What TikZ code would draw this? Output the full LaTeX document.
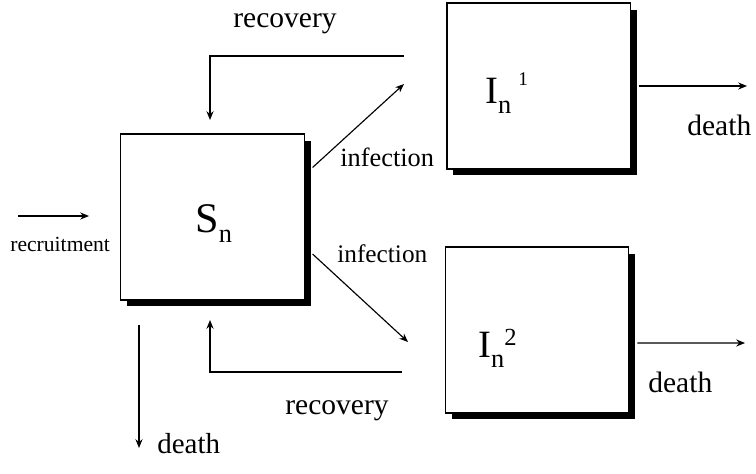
\documentclass[tikz,border=0pt]{standalone}
\usepackage{fontspec}
\setmainfont{Liberation Serif}
\usetikzlibrary{shadows}
\usetikzlibrary{arrows.meta}
\tikzset{popbox/.style={draw, line width=0.6pt, fill=white, minimum width=3.67cm, minimum height=3.32cm, drop shadow={shadow xshift=0.13cm, shadow yshift=-0.13cm, opacity=1, fill=black}}}
\tikzset{flow/.style={line width=0.65pt, -{Stealth[length=5pt, width=4pt]}}}
\tikzset{lbl/.style={anchor=base west, inner sep=0pt, font=\fontsize{16.8}{18}\selectfont}}
\tikzset{poplbl/.style={anchor=base west, inner sep=0pt}}

\begin{document}
\begin{tikzpicture}[x=0.02cm, y=-0.02cm]
\useasboundingbox (0,0) rectangle (756,473);

\node[popbox] (Sn) at (212.3, 217) {};
\node[popbox] (In1) at (538.7, 86) {};
\node[popbox] (In2) at (537, 330) {};

\node[poplbl] (SnLbl) at (195, 232) {\fontsize{24}{26}\selectfont S\raisebox{-6.2pt}{\fontsize{15}{16}\selectfont n}};
\node[poplbl] (In1Lbl) at (485, 103) {\fontsize{22}{24}\selectfont I\raisebox{-5.7pt}{\fontsize{15}{16}\selectfont n}\hspace{4pt}\raisebox{10pt}{\fontsize{11}{12}\selectfont 1}};
\node[poplbl] (In2Lbl) at (478, 357) {\fontsize{22}{24}\selectfont I\raisebox{-5.7pt}{\fontsize{15}{16}\selectfont n}\raisebox{6.8pt}{\fontsize{14}{15}\selectfont 2}};

\coordinate (rcA) at (18, 216);
\coordinate (rcB) at (89, 216);
\coordinate (dsA) at (139, 325);
\coordinate (dsB) at (139, 448);
\coordinate (rtA) at (404, 56);
\coordinate (rtB) at (210, 120);
\coordinate (rbA) at (402, 372);
\coordinate (rbB) at (210, 320);
\coordinate (itB) at (404, 84);
\coordinate (ibB) at (408, 342);
\coordinate (d1B) at (747, 86);
\coordinate (d2B) at (745, 343);

\draw[flow] (rcA) -- (rcB);
\draw[flow] (dsA) -- (dsB);
\draw[flow] (rtA) -| (rtB);
\draw[flow] (rbA) -| (rbB);
\draw[flow] ([shift={(8,34)}]Sn.north east) -- (itB);
\draw[flow] ([shift={(8,37)}]Sn.east) -- (ibB);
\draw[flow] ([xshift=0.16cm]In1.east) -- (d1B);
\draw[flow] ([xshift=0.16cm, yshift=-0.26cm]In2.east) -- (d2B);

\node[lbl] (recTop) at (233, 28) {recovery};
\node[lbl, font=\fontsize{15}{16}\selectfont] (infTop) at (340, 166) {infection};
\node[lbl, font=\fontsize{12.3}{14}\selectfont] (recruit) at (10, 251) {recruitment};
\node[lbl, font=\fontsize{14.4}{16}\selectfont] (infBot) at (337, 262) {infection};
\node[lbl] (recBot) at (285, 414) {recovery};
\node[lbl, font=\fontsize{16.5}{18}\selectfont] (deathS) at (157, 453) {death};
\node[lbl] (death1) at (687, 135) {death};
\node[lbl] (death2) at (648, 392) {death};

\end{tikzpicture}
\end{document}
